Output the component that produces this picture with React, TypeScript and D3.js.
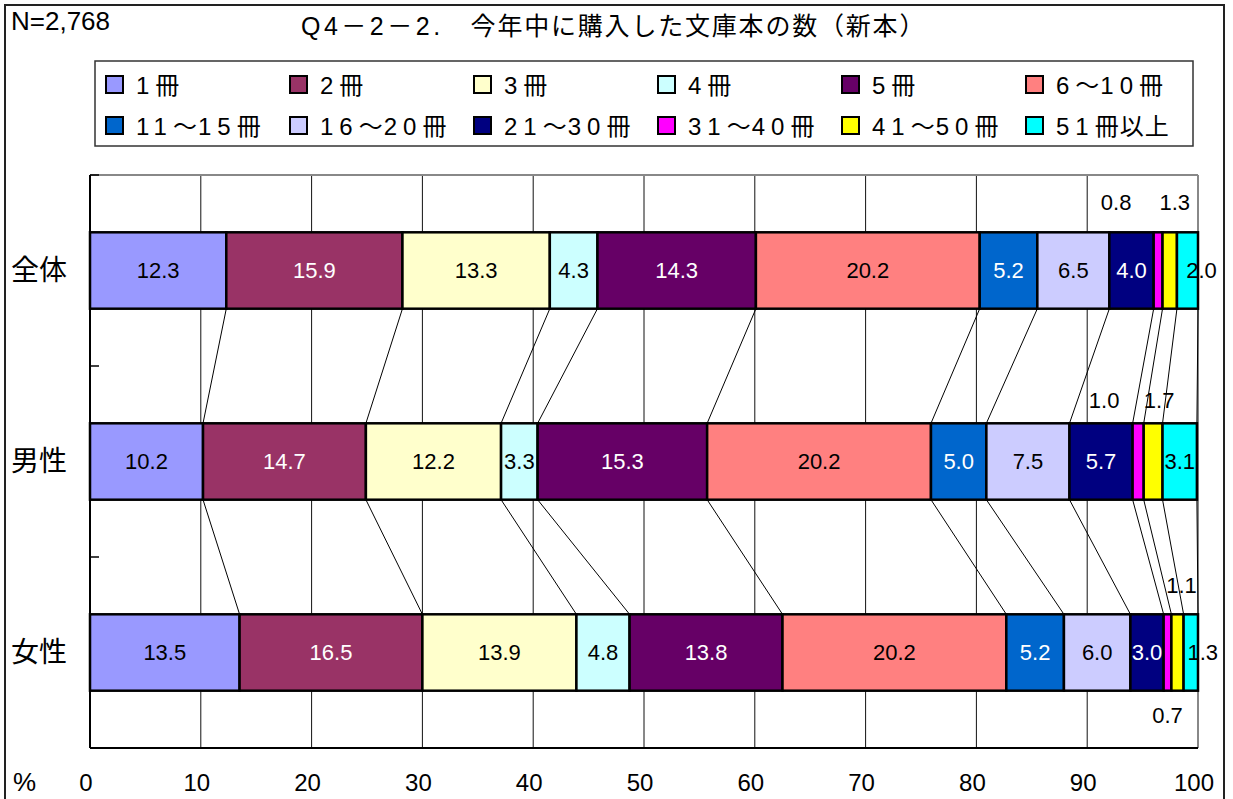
import React from "react";
import * as d3 from "d3";

const categories = ["全体", "男性", "女性"];
const seriesNames = [
  "1冊", "2冊", "3冊", "4冊", "5冊", "6～10冊",
  "11～15冊", "16～20冊", "21～30冊", "31～40冊", "41～50冊", "51冊以上",
];
const seriesColors = [
  "#9999FF", "#993366", "#FFFFCC", "#CCFFFF", "#660066", "#FF8080",
  "#0066CC", "#CCCCFF", "#000080", "#FF00FF", "#FFFF00", "#00FFFF",
];
const whiteLabelSeries = [1, 4, 6, 8];

const totalValues = [12.3, 15.9, 13.3, 4.3, 14.3, 20.2, 5.2, 6.5, 4.0, 0.8, 1.3, 2.0];
const maleValues = [10.2, 14.7, 12.2, 3.3, 15.3, 20.2, 5.0, 7.5, 5.7, 1.0, 1.7, 3.1];
const femaleValues = [13.5, 16.5, 13.9, 4.8, 13.8, 20.2, 5.2, 6.0, 3.0, 0.7, 1.1, 1.3];
const rows = [totalValues, maleValues, femaleValues];

const xTicks = [0, 10, 20, 30, 40, 50, 60, 70, 80, 90, 100];

// hand-placed labels for the thin segments (cat, series, where, nudge)
const labelPlacement = [
  { cat: 0, series: 9, pos: "above", dx: -42, dy: -30 },
  { cat: 0, series: 10, pos: "above", dx: 5, dy: -30 },
  { cat: 0, series: 11, pos: "inside", dx: 14, dy: 0 },
  { cat: 1, series: 9, pos: "above", dx: -34, dy: -23 },
  { cat: 1, series: 10, pos: "above", dx: 6, dy: -23 },
  { cat: 2, series: 9, pos: "below", dx: 0, dy: 25 },
  { cat: 2, series: 10, pos: "above", dx: 4, dy: -29 },
  { cat: 2, series: 11, pos: "inside", dx: 12, dy: 0 },
];

const W = 1233;
const H = 799;
const font = "'Liberation Sans', 'Noto Sans CJK JP', sans-serif";
const plot = { left: 90, right: 1198, top: 175, bottom: 748 };

// digits in the legend sit wider apart than the kana/kanji
const splitDigits = (s: string) => s.match(/[0-9]+|[^0-9]+/g) || [s];

export default function App() {
  const x = d3.scaleLinear().domain([0, 100]).range([plot.left, plot.right]);
  const y = d3
    .scaleBand<string>()
    .domain(categories)
    .range([plot.top, plot.bottom])
    .paddingInner(0.6)
    .paddingOuter(0.3);
  const step = y.step();
  const bh = y.bandwidth();

  // cumulative segments, clipped at 100
  const segs = rows.map((vals) => {
    let acc = 0;
    return vals.map((v) => {
      const s = acc;
      acc += v;
      return { s: Math.min(s, 100), e: Math.min(acc, 100), v };
    });
  });

  const connectors: { x1: number; y1: number; x2: number; y2: number }[] = [];
  for (let c = 0; c < categories.length - 1; c++) {
    segs[c].forEach((d, i) => {
      connectors.push({
        x1: x(d.e),
        y1: (y(categories[c]) as number) + bh,
        x2: x(segs[c + 1][i].e),
        y2: y(categories[c + 1]) as number,
      });
    });
  }

  const legendCols = d3.range(6).map((i) => 106 + i * 184);
  const legendRows = [85, 126];

  return (
    <svg
      width={W}
      height={H}
      style={{ position: "absolute", left: 0, top: 0, background: "#fff" }}
      fontFamily={font}
    >
      <rect x={5} y={5} width={1219} height={820} fill="#fff" stroke="#222" strokeWidth={2} />

      <text x={11} y={21} fontSize={26} dominantBaseline="central">N=2,768</text>
      <text x={301} y={26} fontSize={25} dominantBaseline="central">
        <tspan letterSpacing={3.5}>Q4－2－2.</tspan>
        <tspan dx={27} letterSpacing={1.8}>今年中に購入した文庫本の数（新本）</tspan>
      </text>

      {/* legend */}
      <rect x={95} y={61} width={1098} height={85} fill="#fff" stroke="#333" strokeWidth={1.5} />
      {seriesNames.map((name, i) => {
        const col = i % 6;
        const row = Math.floor(i / 6);
        const lx = legendCols[col];
        const ly = legendRows[row];
        return (
          <g key={name}>
            <rect x={lx} y={ly - 9} width={17} height={17} fill={seriesColors[i]} stroke="#000" strokeWidth={2} />
            <text x={lx + 30} y={ly} fontSize={24} dominantBaseline="central">
              {splitDigits(name).map((part, k) => (
                <tspan key={k} letterSpacing={/[0-9]/.test(part) ? 6 : 1}>{part}</tspan>
              ))}
            </text>
          </g>
        );
      })}

      {/* plot area */}
      <rect x={plot.left} y={plot.top} width={plot.right - plot.left} height={plot.bottom - plot.top} fill="#fff" />
      {xTicks.slice(1, -1).map((t) => (
        <line key={t} x1={x(t)} x2={x(t)} y1={plot.top} y2={plot.bottom} stroke="#111" strokeWidth={1} />
      ))}
      <line x1={plot.left} x2={plot.right} y1={plot.top} y2={plot.top} stroke="#888" strokeWidth={2} />
      <line x1={plot.right} x2={plot.right} y1={plot.top} y2={plot.bottom} stroke="#888" strokeWidth={2} />

      {connectors.map((l, i) => (
        <line key={i} {...l} stroke="#000" strokeWidth={1} />
      ))}

      {categories.map((cat, c) => (
        <g key={cat}>
          {segs[c].map((d, i) => (
            <rect
              key={i}
              x={x(d.s)}
              y={y(cat)}
              width={x(d.e) - x(d.s)}
              height={bh}
              fill={seriesColors[i]}
              stroke="#000"
              strokeWidth={2.5}
            />
          ))}
        </g>
      ))}

      {/* data labels */}
      {categories.map((cat, c) =>
        segs[c].map((d, i) => {
          const p = labelPlacement.find((q) => q.cat === c && q.series === i);
          const cx = (x(d.s) + x(d.e)) / 2 + (p ? p.dx : 0);
          let cy = (y(cat) as number) + bh / 2;
          if (p && p.pos === "above") cy = (y(cat) as number) + p.dy;
          if (p && p.pos === "below") cy = (y(cat) as number) + bh + p.dy;
          const white = whiteLabelSeries.includes(i) && (!p || p.pos === "inside");
          return (
            <text
              key={cat + i}
              x={cx}
              y={cy}
              fontSize={22}
              textAnchor="middle"
              dominantBaseline="central"
              fill={white ? "#fff" : "#000"}
            >
              {d.v.toFixed(1)}
            </text>
          );
        })
      )}

      {/* axes */}
      <line x1={plot.left} x2={plot.left} y1={plot.top} y2={plot.bottom} stroke="#000" strokeWidth={2} />
      <line x1={plot.left} x2={plot.right} y1={plot.bottom} y2={plot.bottom} stroke="#000" strokeWidth={2} />
      {d3.range(categories.length + 1).map((k) => (
        <line
          key={k}
          x1={plot.left}
          x2={plot.left + 9}
          y1={plot.top + k * step}
          y2={plot.top + k * step}
          stroke="#000"
          strokeWidth={1.5}
        />
      ))}
      {categories.map((cat) => (
        <text key={cat} x={11} y={(y(cat) as number) + bh / 2} fontSize={28} dominantBaseline="central">
          {cat}
        </text>
      ))}
      {xTicks.map((t) => (
        <text key={t} x={x(t) - 4} y={782} fontSize={24} textAnchor="middle" dominantBaseline="central">
          {t}
        </text>
      ))}
      <text x={13} y={782} fontSize={26} dominantBaseline="central">%</text>
    </svg>
  );
}
